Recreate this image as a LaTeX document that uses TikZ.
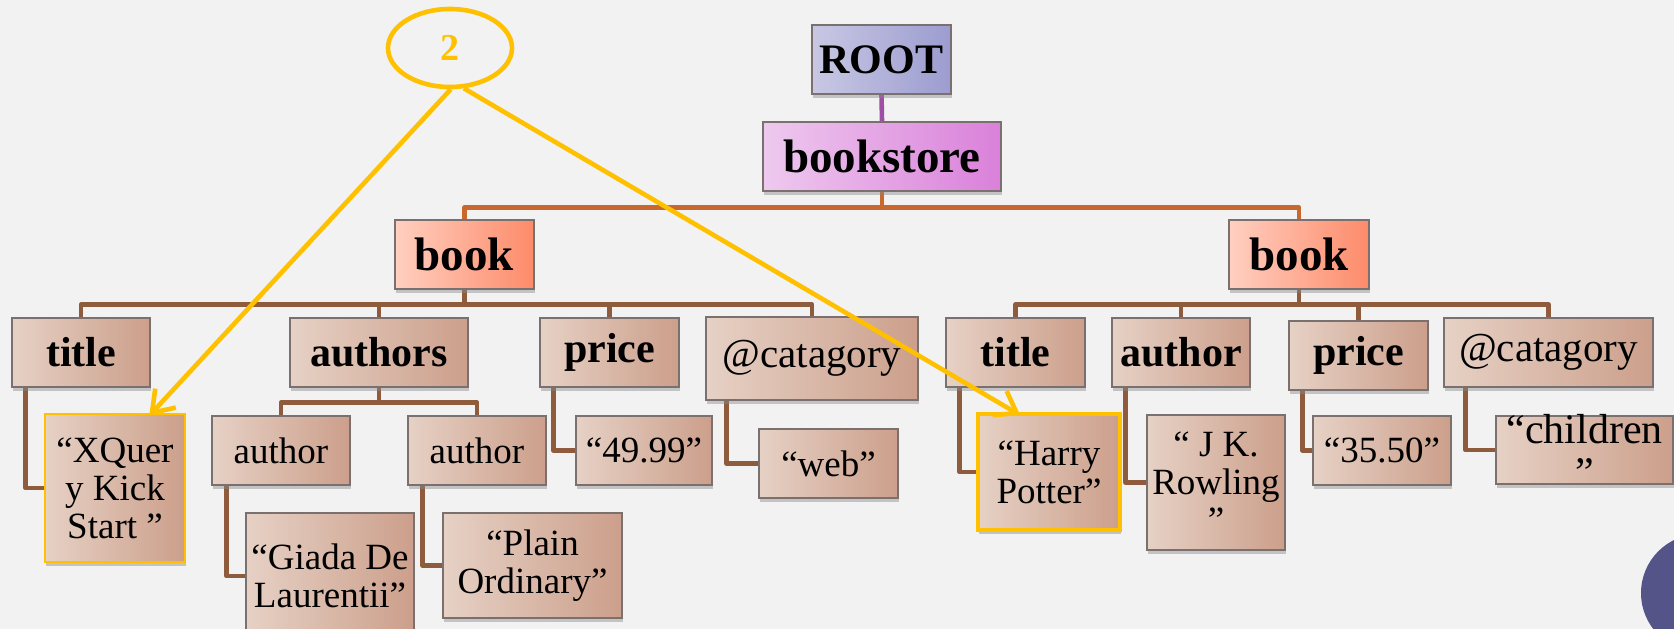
\documentclass[tikz,border=0pt]{standalone}
\usepackage{fontspec}
\setmainfont{Liberation Serif}
\usetikzlibrary{shapes.geometric,arrows.meta,shadows}

\definecolor{bgc}{HTML}{F2F2F2}
\definecolor{boxline}{HTML}{7A7070}
\definecolor{brL}{HTML}{E6D1C5}
\definecolor{brR}{HTML}{CC9F8B}
\definecolor{rtL}{HTML}{C8C8E4}
\definecolor{rtR}{HTML}{9C9CD0}
\definecolor{stL}{HTML}{EEC9EE}
\definecolor{stR}{HTML}{DA80DA}
\definecolor{bkL}{HTML}{FFCFC0}
\definecolor{bkR}{HTML}{FD8B6A}
\definecolor{purp}{HTML}{9E4FA5}
\definecolor{orng}{HTML}{C8682E}
\definecolor{brn}{HTML}{8E5C3C}
\definecolor{hl}{HTML}{FFC000}
\definecolor{discblue}{HTML}{545489}
\definecolor{shadowgray}{HTML}{8A8A8A}

\pgfdeclarelayer{back}
\pgfdeclarelayer{links}
\pgfsetlayers{back,links,main}

\tikzset{
  box/.style={rectangle, draw=boxline, line width=1.2pt, inner sep=0pt, align=center,
    drop shadow={shadow xshift=1pt, shadow yshift=-4pt, fill=shadowgray, opacity=0.45}},
  brownbox/.style={box, left color=brL, right color=brR},
  rootbox/.style={box, left color=rtL, right color=rtR},
  storebox/.style={box, left color=stL, right color=stR},
  bookbox/.style={box, left color=bkL, right color=bkR},
  sz/.style 2 args={minimum width=#1pt, minimum height=#2pt},
  txtbig/.style={font=\fontsize{47}{50}\selectfont\bfseries},
  txthead/.style={font=\fontsize{42}{46}\selectfont\bfseries},
  txtcat/.style={font=\fontsize{41}{44}\selectfont},
  txtleaf/.style={font=\fontsize{37}{38}\selectfont},
  txtkids/.style={font=\fontsize{42}{43}\selectfont},
  lnk/.style={line width=4.6pt, draw=brn, line join=round},
  yarrow/.style={draw=hl, line width=4.6pt, -{Straight Barb[length=20pt,width=28pt]}},
}

\begin{document}
\begin{tikzpicture}[x=1pt, y=-1pt]
\useasboundingbox (0,0) rectangle (1674,629);
\begin{pgfonlayer}{back}
  \fill[bgc] (0,0) rectangle (1674,629);
\end{pgfonlayer}

% top of the tree
\node[rootbox, txthead, sz={139}{69}] (root) at (881.5,59.5) {ROOT};
\node[storebox, txtbig, sz={238}{69}] (store) at (882,156.5) {bookstore};
\node[bookbox, txtbig, sz={139}{69}] (bookL) at (464.5,254.5) {book};
\node[bookbox, txtbig, sz={140}{69}] (bookR) at (1299,254.5) {book};

% children of the first book
\node[brownbox, txthead, sz={138}{69}] (titleL) at (81,352.5) {title};
\node[brownbox, txthead, sz={178}{69}] (authors) at (379,352.5) {authors};
\node[brownbox, txthead, sz={139}{69}] (priceL) at (609.5,352.5) {price};
\node[brownbox, txtcat, sz={212}{83}] (catL) at (812,358.5) {@catagory};

% children of the second book
\node[brownbox, txthead, sz={139}{69}] (titleR) at (1015.5,352.5) {title};
\node[brownbox, txthead, sz={138}{69}] (authorR) at (1181,352.5) {author};
\node[brownbox, txthead, sz={139}{69}] (priceR) at (1358.5,355.5) {price};
\node[brownbox, txtcat, sz={209}{69}] (catR) at (1548.5,352.5) {@catagory};

% values, first book
\node[brownbox, txtleaf, sz={140}{148}, draw=hl, line width=2.5pt] (xq) at (115,488) {“XQuer\\y Kick\\Start ”};
\node[brownbox, txtleaf, sz={138}{69}] (au1) at (281,450.5) {author};
\node[brownbox, txtleaf, sz={138}{69}] (au2) at (477,450.5) {author};
\node[brownbox, txtleaf, sz={168}{126}] (giada) at (330,576) {“Giada De\\Laurentii”};
\node[brownbox, txtleaf, sz={179}{105}] (plainb) at (532.5,565.5) {“Plain\\Ordinary”};
\node[brownbox, txtleaf, sz={136}{69}] (p4999) at (644,450.5) {“49.99”};
\node[brownbox, txtleaf, sz={139}{69}] (web) at (828.5,463.5) {“web”};

% values, second book
\node[brownbox, txtleaf, sz={142}{116}, draw=hl, line width=3.5pt] (harry) at (1049,472) {“Harry\\Potter”};
\node[brownbox, txtleaf, sz={138}{135}] (rowl) at (1216,482.5) {“ J K.\\Rowling\\”};
\node[brownbox, txtleaf, sz={138}{69}] (p3550) at (1382,450.5) {“35.50”};
\node[brownbox, txtkids, sz={177}{68}] (kids) at (1584.5,450)
  {\parbox[c][60pt][c]{177pt}{\centering “children\\”}};

% connectors
\begin{pgfonlayer}{links}
  \draw[lnk, draw=purp] (root.south) -- (store.north);
  \draw[lnk, draw=orng] (store.south) -- ++(0,16) -| (bookL.north);
  \draw[lnk, draw=orng] (store.south) -- ++(0,16) -| (bookR.north);
  \foreach \c in {titleL,authors,priceL,catL}
    \draw[lnk] (bookL.south) -- ++(0,15) -| (\c.north);
  \foreach \c in {titleR,authorR,priceR,catR}
    \draw[lnk] (bookR.south) -- ++(0,15) -| (\c.north);
  \foreach \c in {au1,au2}
    \draw[lnk] (authors.south) -- ++(0,15) -| (\c.north);
  \draw[lnk] ([xshift=14pt]titleL.south west) |- (xq.west);
  \draw[lnk] ([xshift=15pt]au1.south west) |- (giada.west);
  \draw[lnk] ([xshift=15pt]au2.south west) |- (plainb.west);
  \draw[lnk] ([xshift=14pt]priceL.south west) |- (p4999.west);
  \draw[lnk] ([xshift=21pt]catL.south west) |- (web.west);
  \draw[lnk] ([xshift=14pt]titleR.south west) |- (harry.west);
  \draw[lnk] ([xshift=14pt]authorR.south west) |- (rowl.west);
  \draw[lnk] ([xshift=14pt]priceR.south west) |- (p3550.west);
  \draw[lnk] ([xshift=22pt]catR.south west) |- (kids.west);
\end{pgfonlayer}

% callout
\node[ellipse, draw=hl, line width=4.6pt, minimum width=124pt, minimum height=78pt,
      inner sep=0pt, text=hl, font=\fontsize{38}{40}\selectfont\bfseries] (two) at (450,48) {2};
\draw[yarrow] (two.-89) -- ([xshift=-37pt,yshift=-3pt]xq.north east);
\draw[yarrow] (two.-71) -- ([xshift=44pt,yshift=-3pt]harry.north west);

% corner disc
\fill[discblue] (1700,593) circle[radius=59pt];
\end{tikzpicture}
\end{document}
